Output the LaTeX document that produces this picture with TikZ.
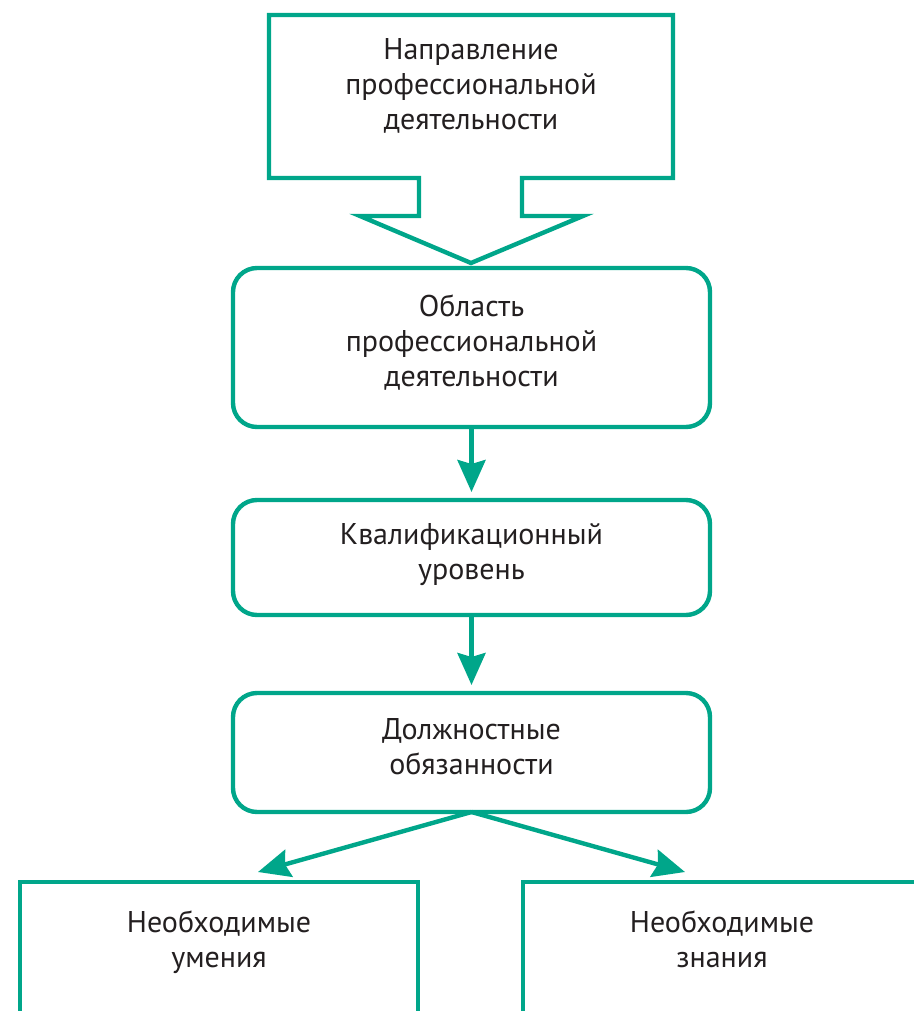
\documentclass[tikz,border=0pt]{standalone}
\usepackage{fontspec}
\setmainfont{PT Sans}
\usetikzlibrary{arrows.meta}
\definecolor{vkgreen}{RGB}{0,166,138}
\definecolor{vkink}{RGB}{35,31,32}

\begin{document}
\begin{tikzpicture}[
  x=0.5pt, y=-0.5pt,
  txt/.style={align=center, text=vkink, font=\fontsize{15}{17.5}\selectfont},
  box/.style={txt, draw=vkgreen, line width=2.2pt, rounded corners=12pt, minimum width=238.5pt, inner sep=0pt, outer sep=0pt},
  openbox/.style={draw=vkgreen, line width=2.2pt, minimum width=199pt, minimum height=100pt, inner sep=0pt, outer sep=0pt, anchor=north},
  flow/.style={draw=vkgreen, line width=2.2pt, ->},
  >={Stealth[width=14pt,length=16pt,inset=2pt]}
]
\useasboundingbox (0,0) rectangle (914,1011);
\clip (0,0) rectangle (914,1011);

% block arrow on top
\draw[vkgreen, line width=2.2pt, line join=miter]
  (269,15) -- (673,15) -- (673,178) -- (522,178) -- (522,216) -- (583,216)
  -- (471,263) -- (360,216) -- (419,216) -- (419,178) -- (269,178) -- cycle;
\node[txt] (dir) at (471,86) {Направление\\профессиональной\\деятельности};

\node[box, minimum height=79.5pt] (area) at (471.5,347.5) {Область\\профессиональной\\деятельности\\[-11pt]};
\node[box, minimum height=57.5pt] (qual) at (471.5,557.5) {Квалификационный\\уровень\\[-11pt]};
\node[box, minimum height=59.5pt] (duty) at (471.5,752.5) {Должностные\\обязанности\\[-11pt]};

\node[openbox] (skill) at (219,882) {};
\node[openbox] (know)  at (722,882) {};
\node[txt, anchor=north] (skillT) at (219,904) {Необходимые\\умения};
\node[txt, anchor=north] (knowT)  at (722,904) {Необходимые\\знания};

\draw[flow, shorten >=4pt] (area) -- (qual);
\draw[flow, shorten >=4pt] (qual) -- (duty);
\draw[flow] (duty.south) -- ([shift={(19.5pt,5pt)}]skill.north);
\draw[flow] (duty.south) -- ([shift={(-18.5pt,5pt)}]know.north);
\end{tikzpicture}
\end{document}
